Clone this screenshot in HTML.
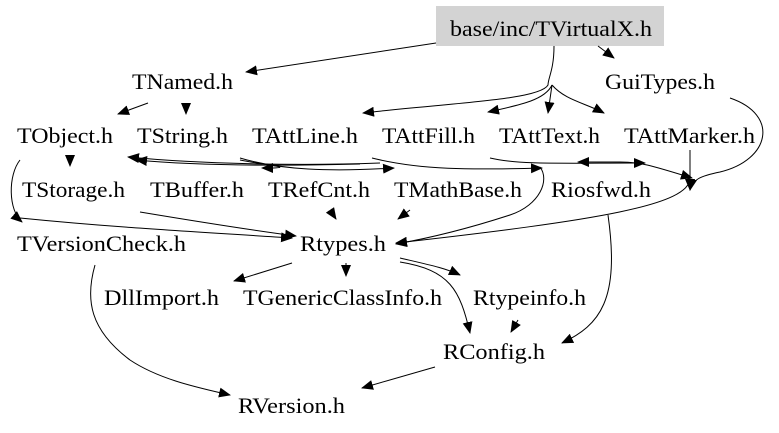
<!DOCTYPE html>
<html><head><meta charset="utf-8"><style>
html,body{margin:0;padding:0;background:#fff;}
svg{display:block;}
text{font-family:"Liberation Serif","Times New Roman",serif;font-size:22px;fill:#000;}
path{fill:none;stroke:#000;stroke-width:1;}
</style></head><body>
<svg width="779" height="433" viewBox="0 0 779 433" xmlns="http://www.w3.org/2000/svg">
<defs><marker id="a" markerWidth="12" markerHeight="10" refX="11" refY="5" orient="auto" markerUnits="userSpaceOnUse"><polygon points="0,0 12,5 0,10" fill="#000"/></marker></defs>
<rect x="436" y="6" width="228" height="40" fill="#d3d3d3"/>
<text x="450" y="36" textLength="202" lengthAdjust="spacingAndGlyphs">base/inc/TVirtualX.h</text>
<text x="132" y="89" textLength="101" lengthAdjust="spacingAndGlyphs">TNamed.h</text>
<text x="605" y="89" textLength="110" lengthAdjust="spacingAndGlyphs">GuiTypes.h</text>
<text x="17" y="143" textLength="96" lengthAdjust="spacingAndGlyphs">TObject.h</text>
<text x="137" y="143" textLength="91" lengthAdjust="spacingAndGlyphs">TString.h</text>
<text x="252" y="143" textLength="106" lengthAdjust="spacingAndGlyphs">TAttLine.h</text>
<text x="382" y="143" textLength="93" lengthAdjust="spacingAndGlyphs">TAttFill.h</text>
<text x="499" y="143" textLength="101" lengthAdjust="spacingAndGlyphs">TAttText.h</text>
<text x="624" y="143" textLength="131" lengthAdjust="spacingAndGlyphs">TAttMarker.h</text>
<text x="22" y="197" textLength="103" lengthAdjust="spacingAndGlyphs">TStorage.h</text>
<text x="150" y="197" textLength="94" lengthAdjust="spacingAndGlyphs">TBuffer.h</text>
<text x="268" y="197" textLength="102" lengthAdjust="spacingAndGlyphs">TRefCnt.h</text>
<text x="394" y="197" textLength="128" lengthAdjust="spacingAndGlyphs">TMathBase.h</text>
<text x="551" y="197" textLength="100" lengthAdjust="spacingAndGlyphs">Riosfwd.h</text>
<text x="17" y="251" textLength="169" lengthAdjust="spacingAndGlyphs">TVersionCheck.h</text>
<text x="300" y="251" textLength="86" lengthAdjust="spacingAndGlyphs">Rtypes.h</text>
<text x="104" y="305" textLength="115" lengthAdjust="spacingAndGlyphs">DllImport.h</text>
<text x="243" y="305" textLength="199" lengthAdjust="spacingAndGlyphs">TGenericClassInfo.h</text>
<text x="473" y="305" textLength="113" lengthAdjust="spacingAndGlyphs">Rtypeinfo.h</text>
<text x="443" y="359" textLength="102" lengthAdjust="spacingAndGlyphs">RConfig.h</text>
<text x="238" y="413" textLength="107" lengthAdjust="spacingAndGlyphs">RVersion.h</text>
<g marker-end="url(#a)">
<path d="M436,43 L246,72"/>
<path d="M598,46 L614,58"/>
<path d="M554,46 C554,70 548,78 548,85 C540,100 450,103 363,113"/>
<path d="M552,85 C545,100 520,105 488,112"/>
<path d="M552,85 L548,113"/>
<path d="M552,85 C565,100 585,103 604,113"/>
<path d="M148,103 L118,114"/>
<path d="M186,103 L186,114"/>
<path d="M70,157 L70,166"/>
<path d="M20,160 C8,175 8,210 22,222"/>
<path d="M20,218 C120,228 200,232 292,238"/>
<path d="M140,212 C200,222 250,230 296,236"/>
<path d="M330,210 L336,219"/>
<path d="M410,210 L398,219"/>
<path d="M540,167 C550,180 540,205 510,215 C470,228 430,238 396,244"/>
<path d="M690,178 C690,205 600,220 396,243"/>
<path d="M730,98 C780,115 770,160 720,172 C700,176 692,180 690,190"/>
<path d="M690,150 L690,190"/>
<path d="M608,215 C620,300 600,325 562,343"/>
<path d="M380,163 C300,166 200,164 128,157"/>
<path d="M360,164 C280,166 200,166 136,160"/>
<path d="M240,158 C280,170 330,172 394,168"/>
<path d="M240,160 C270,166 300,168 262,168"/>
<path d="M372,158 C420,170 470,170 542,168"/>
<path d="M490,158 C520,165 560,163 645,163"/>
<path d="M620,162 L578,162"/>
<path d="M620,162 C640,162 650,165 692,178"/>
<path d="M292,263 L234,281"/>
<path d="M346,263 L346,276"/>
<path d="M400,258 C430,265 445,268 460,275"/>
<path d="M400,262 C450,270 460,290 470,333"/>
<path d="M518,320 L511,332"/>
<path d="M435,367 L362,388"/>
<path d="M95,265 C85,300 90,330 130,360 C160,380 200,388 230,395"/>
</g>
</svg>
</body></html>
